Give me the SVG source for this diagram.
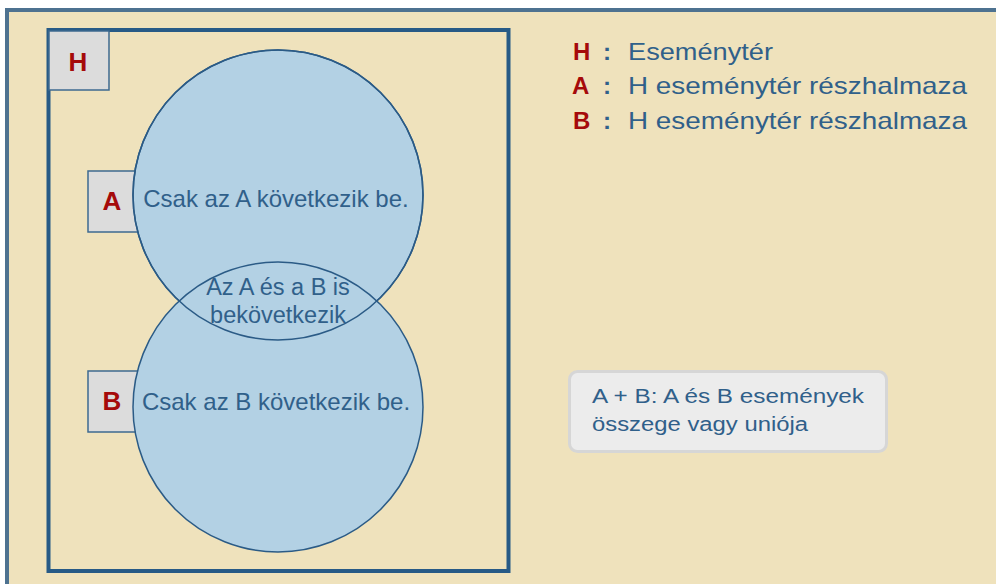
<svg xmlns="http://www.w3.org/2000/svg" width="996" height="584" viewBox="0 0 996 584">
<style>
.lbl{font-family:"Liberation Sans",Arial,sans-serif;font-weight:bold;fill:#a50a0a}
.txt{font-family:"Liberation Sans",Arial,sans-serif;fill:#30608a}
.box{fill:#dcdcdc;stroke:#3e6a90;stroke-width:1.5}
.circ{fill:#b3d1e4;stroke:#2b5b86;stroke-width:1.5}
</style>
<rect x="0" y="0" width="996" height="584" fill="#ffffff"/>
<rect x="5" y="8" width="991" height="576" fill="#efe2bc"/>
<rect x="5" y="8" width="991" height="4" fill="#4e7290"/>
<rect x="5" y="8" width="4" height="576" fill="#4e7290"/>
<g id="H">
<rect x="48.5" y="30" width="460" height="541" fill="none" stroke="#275a86" stroke-width="4"/>
<rect class="box" x="49" y="31" width="60" height="59"/>
<text class="lbl" x="78" y="71" font-size="26" text-anchor="middle">H</text>
</g>
<g id="A">
<rect class="box" x="88" y="171" width="52" height="61"/>
<text class="lbl" x="112" y="210" font-size="26" text-anchor="middle">A</text>
<circle class="circ" cx="278" cy="195" r="145"/>
</g>
<g id="B">
<rect class="box" x="88" y="371" width="52" height="61"/>
<text class="lbl" x="112" y="410" font-size="26" text-anchor="middle">B</text>
<circle class="circ" cx="278" cy="407" r="145"/>
</g>
<g id="AB">
<circle cx="278" cy="195" r="145" fill="none" stroke="#2b5b86" stroke-width="1.5"/>
<text class="txt" x="276" y="207" font-size="24" text-anchor="middle">Csak az A következik be.</text>
<text class="txt" x="276" y="410" font-size="24" text-anchor="middle">Csak az B következik be.</text>
<text class="txt" x="278" y="295" font-size="23.5" text-anchor="middle">Az A és a B is</text>
<text class="txt" x="278" y="323" font-size="23.5" text-anchor="middle">bekövetkezik</text>
</g>
<g id="legend">
<text class="lbl" x="573" y="60" font-size="24">H</text>
<text class="txt" x="603" y="60" font-size="24" font-weight="bold">:</text>
<text class="txt" x="628" y="60" font-size="24" textLength="145" lengthAdjust="spacingAndGlyphs">Eseménytér</text>
<text class="lbl" x="572" y="94" font-size="24">A</text>
<text class="txt" x="603" y="94" font-size="24" font-weight="bold">:</text>
<text class="txt" x="628" y="94" font-size="24" textLength="339" lengthAdjust="spacingAndGlyphs">H eseménytér részhalmaza</text>
<text class="lbl" x="573" y="129" font-size="24">B</text>
<text class="txt" x="603" y="129" font-size="24" font-weight="bold">:</text>
<text class="txt" x="628" y="129" font-size="24" textLength="339" lengthAdjust="spacingAndGlyphs">H eseménytér részhalmaza</text>
</g>
<g id="union">
<rect x="569.5" y="371.5" width="317" height="80" rx="8" fill="#ececec" stroke="#d6d6d6" stroke-width="3"/>
<text class="txt" x="592" y="403" font-size="20" textLength="272" lengthAdjust="spacingAndGlyphs">A + B: A és B események</text>
<text class="txt" x="592" y="431" font-size="20" textLength="216" lengthAdjust="spacingAndGlyphs">összege vagy uniója</text>
</g>
</svg>
